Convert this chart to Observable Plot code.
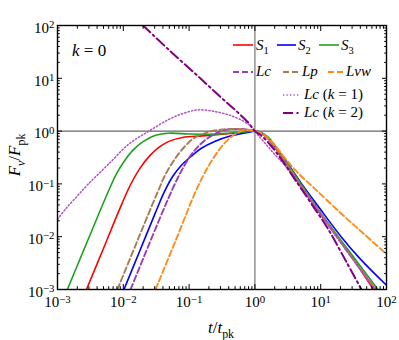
<!DOCTYPE html>
<html><head><meta charset="utf-8">
<script src="https://cdn.jsdelivr.net/npm/d3@7"></script>
<script src="https://cdn.jsdelivr.net/npm/@observablehq/plot@0.6"></script>
<style>body{margin:0;background:#fff;} svg{display:block}</style>
</head><body><div id="chart"></div>
<script>
// Values as [log10(t/tpk), log10(F/Fpk)]
const S1 = [[-2.56,-3],[-2.3,-2.22],[-2.07,-1.52],[-1.9,-1.04],[-1.75,-0.71],[-1.6,-0.47],[-1.45,-0.3],[-1.3,-0.19],[-1.1,-0.12],[-0.8,-0.09],[-0.5,-0.06],[-0.25,-0.03],[0,0],[0.1,-0.04],[0.2,-0.14],[0.3,-0.3],[0.45,-0.57],[0.7,-1.04],[0.96,-1.5],[1.4,-2.25],[1.8,-3]];
const S2 = [[-1.99,-3],[-1.75,-2.27],[-1.51,-1.54],[-1.38,-1.16],[-1.25,-0.86],[-1.12,-0.65],[-0.97,-0.48],[-0.82,-0.33],[-0.62,-0.2],[-0.36,-0.09],[-0.1,-0.025],[0,0],[0.1,-0.035],[0.2,-0.13],[0.3,-0.28],[0.45,-0.53],[0.7,-0.98],[0.96,-1.42],[1.31,-2.0],[1.6,-2.42],[2.0,-2.92]];
const S3 = [[-2.85,-3],[-2.6,-2.25],[-2.37,-1.56],[-2.22,-1.12],[-2.1,-0.8],[-1.98,-0.56],[-1.86,-0.37],[-1.7,-0.2],[-1.51,-0.08],[-1.31,-0.04],[-1.0,-0.055],[-0.7,-0.06],[-0.4,-0.04],[-0.15,-0.015],[0,0],[0.1,-0.03],[0.2,-0.11],[0.3,-0.27],[0.45,-0.53],[0.7,-1.0],[0.96,-1.48],[1.4,-2.22],[1.87,-3]];
const Lc = [[-1.89,-3],[-1.65,-2.27],[-1.4,-1.52],[-1.25,-1.09],[-1.12,-0.76],[-0.97,-0.45],[-0.82,-0.24],[-0.65,-0.08],[-0.45,0.02],[-0.25,0.04],[-0.1,0.025],[0,0],[0.1,-0.04],[0.2,-0.14],[0.3,-0.3],[0.45,-0.57],[0.7,-1.04],[0.96,-1.5],[1.4,-2.27],[1.83,-3]];
const Lp = [[-2.09,-3],[-1.8,-2.12],[-1.48,-1.16],[-1.35,-0.8],[-1.2,-0.5],[-1.05,-0.27],[-0.92,-0.13],[-0.71,-0.02],[-0.5,0.03],[-0.3,0.04],[-0.1,0.02],[0,0],[0.1,-0.04],[0.2,-0.14],[0.3,-0.3],[0.45,-0.56],[0.7,-1.03],[0.96,-1.49],[1.4,-2.26],[1.84,-3]];
const Lvw = [[-1.51,-3],[-1.2,-2.06],[-0.9,-1.14],[-0.78,-0.83],[-0.67,-0.59],[-0.51,-0.3],[-0.36,-0.11],[-0.21,0.0],[-0.1,0.025],[0,0],[0.15,-0.08],[0.3,-0.26],[0.45,-0.5],[0.66,-0.8],[0.9,-1.08],[1.31,-1.56],[1.65,-1.94],[2.0,-2.33]];
const LcK1 = [[-3,-1.67],[-2.88,-1.48],[-2.7,-1.23],[-2.53,-1.0],[-2.22,-0.62],[-1.91,-0.24],[-1.61,0.0],[-1.31,0.22],[-1.1,0.33],[-0.88,0.4],[-0.65,0.38],[-0.36,0.29],[-0.1,0.13],[0,0],[0.05,-0.08],[0.19,-0.28],[0.3,-0.44],[0.45,-0.64],[0.7,-1.06],[0.96,-1.52],[1.4,-2.28],[1.82,-3]];
const LcK2 = [[-1.7,2.0],[-1.3,1.53],[-0.83,1.0],[-0.5,0.62],[-0.3,0.4],[-0.1,0.16],[0,0],[0.1,-0.09],[0.22,-0.24],[0.4,-0.53],[0.6,-0.9],[0.85,-1.36],[1.11,-1.85],[1.4,-2.5],[1.62,-3]];
const xMajor = [-3,-2,-1,0,1,2];
const yMajor = [-3,-2,-1,0,1,2];
const minorMult = [2,3,4,5,6,7,8,9];

const series = [
  {name:"S1", pts:S1, stroke:"#ff0000", w:1.6, dash:null},
  {name:"S2", pts:S2, stroke:"#0000ff", w:1.6, dash:null},
  {name:"S3", pts:S3, stroke:"#20a020", w:1.6, dash:null},
  {name:"Lc", pts:Lc, stroke:"#9a3db8", w:1.9, dash:"6,3"},
  {name:"Lp", pts:Lp, stroke:"#a87b52", w:1.9, dash:"6,3"},
  {name:"Lvw", pts:Lvw, stroke:"#ff8c1a", w:1.9, dash:"6,3"},
  {name:"LcK1", pts:LcK1, stroke:"#b050c8", w:1.5, dash:"1.3,2.2"},
  {name:"LcK2", pts:LcK2, stroke:"#800080", w:2, dash:"10,3.5,2,3.5"}
];
const rows = series.flatMap(s => s.pts.map(([lt, lf]) => ({series: s.name, t: 10 ** lt, f: 10 ** lf})));

const xTicks = xMajor.map(e => 10 ** e);
const yTicks = yMajor.map(e => 10 ** e);
const xMinor = xMajor.slice(0, -1).flatMap(e => minorMult.map(m => m * 10 ** e));
const yMinor = yMajor.slice(0, -1).flatMap(e => minorMult.map(m => m * 10 ** e));
const fmt = d => "10^" + Math.round(Math.log10(d));
const blank = () => "";
const SERIF = "'Liberation Serif', 'DejaVu Serif', serif";

const chart = Plot.plot({
  width: 399, height: 340,
  marginLeft: 57, marginRight: 13, marginTop: 25, marginBottom: 51,
  style: {fontFamily: SERIF, fontSize: "14px", background: "white", color: "black"},
  x: {type: "log", domain: [1e-3, 1e2], label: null},
  y: {type: "log", domain: [1e-3, 1e2], label: null},
  marks: [
    Plot.ruleY([1], {stroke: "#666", strokeWidth: 1.3}),
    Plot.ruleX([1], {stroke: "#888", strokeWidth: 1.4}),
    ...series.map(s => Plot.line(rows.filter(r => r.series === s.name), {
      x: "t", y: "f", stroke: s.stroke, strokeWidth: s.w, strokeDasharray: s.dash, curve: "catmull-rom", clip: true
    })),
    Plot.axisX({anchor: "bottom", ticks: xTicks, tickSize: -5, tickFormat: blank, label: null}),
    Plot.axisX({anchor: "bottom", ticks: xMinor, tickSize: -2.8, tickFormat: blank, label: null}),
    Plot.axisX({anchor: "top", ticks: xTicks, tickSize: -5, tickFormat: blank, label: null}),
    Plot.axisX({anchor: "top", ticks: xMinor, tickSize: -2.8, tickFormat: blank, label: null}),
    Plot.axisY({anchor: "left", ticks: yTicks, tickSize: -5, tickFormat: blank, label: null}),
    Plot.axisY({anchor: "left", ticks: yMinor, tickSize: -2.8, tickFormat: blank, label: null}),
    Plot.axisY({anchor: "right", ticks: yTicks, tickSize: -5, tickFormat: blank, label: null}),
    Plot.axisY({anchor: "right", ticks: yMinor, tickSize: -2.8, tickFormat: blank, label: null}),
    Plot.axisX({anchor: "bottom", ticks: xTicks, tickSize: 0, tickPadding: 7, tickFormat: fmt, label: null, fontSize: 15}),
    Plot.axisY({anchor: "left", ticks: yTicks, tickSize: 0, tickPadding: 3, tickFormat: fmt, label: null, dy: 2.5, fontSize: 15}),
    Plot.frame({stroke: "black", strokeWidth: 1.4})
  ]
});
document.getElementById("chart").appendChild(chart);

// superscript exponents in tick labels
chart.querySelectorAll("text").forEach(t => {
  t.style.fontFamily = SERIF;
  const s = t.textContent;
  const m = /^10\^(-?\d+)$/.exec(s);
  if (!m) return;
  t.textContent = "10";
  const sp = document.createElementNS("http://www.w3.org/2000/svg", "tspan");
  sp.setAttribute("dy", "-0.42em");
  sp.setAttribute("font-size", "0.72em");
  sp.textContent = m[1].replace("-", "\u2212");
  t.appendChild(sp);
});

const svg = d3.select(chart);
function mathText(g, x, y, fs, parts, anchor) {
  const t = g.append("text").attr("x", x).attr("y", y).attr("font-size", fs)
    .attr("text-anchor", anchor || "start").attr("fill", "black")
    .style("font-family", SERIF);
  let shift = 0;
  for (const [txt, kind] of parts) {
    const sp = t.append("tspan").text(txt);
    let target = 0;
    if (kind === "i" || kind === "subi") sp.attr("font-style", "italic");
    if (kind === "sub" || kind === "subi") { sp.attr("font-size", fs * 0.7); target = fs * 0.28; }
    if (target !== shift) { sp.attr("dy", target - shift); shift = target; }
  }
  return t;
}
const lg = svg.append("g");
// axis labels
mathText(lg, 221, 333, 17, [["t","i"],["/","r"],["t","i"],["pk","sub"]], "middle");
mathText(lg.append("g").attr("transform", "translate(20,155) rotate(-90)"), 0, 0, 17,
  [["F","i"],["\u03bd","subi"],["/","r"],["F","i"],["pk","sub"]], "middle");
// k = 0
mathText(lg, 72, 56, 17, [["k","i"],[" = 0","r"]]);
// legend
function legLine(x1, x2, y, s) {
  lg.append("line").attr("x1", x1).attr("x2", x2).attr("y1", y).attr("y2", y)
    .attr("stroke", s.stroke).attr("stroke-width", s.w).attr("stroke-dasharray", s.dash);
}
const byName = Object.fromEntries(series.map(s => [s.name, s]));
legLine(233, 253, 45, byName.S1); mathText(lg, 256, 50, 15, [["S","i"],["1","sub"]]);
legLine(277, 296, 45, byName.S2); mathText(lg, 298, 50, 15, [["S","i"],["2","sub"]]);
legLine(319, 339, 45, byName.S3); mathText(lg, 341, 50, 15, [["S","i"],["3","sub"]]);
legLine(233, 253, 72, byName.Lc); mathText(lg, 256, 76, 15, [["Lc","i"]]);
legLine(283, 300, 72, byName.Lp); mathText(lg, 302, 76, 15, [["Lp","i"]]);
legLine(328, 344, 72, byName.Lvw); mathText(lg, 346, 76, 15, [["Lvw","i"]]);
legLine(283, 299, 95, byName.LcK1); mathText(lg, 304, 99, 15, [["Lc","i"],[" (","r"],["k","i"],[" = 1)","r"]]);
legLine(283, 299, 113, byName.LcK2); mathText(lg, 304, 117, 15, [["Lc","i"],[" (","r"],["k","i"],[" = 2)","r"]]);
</script>
</body></html>
